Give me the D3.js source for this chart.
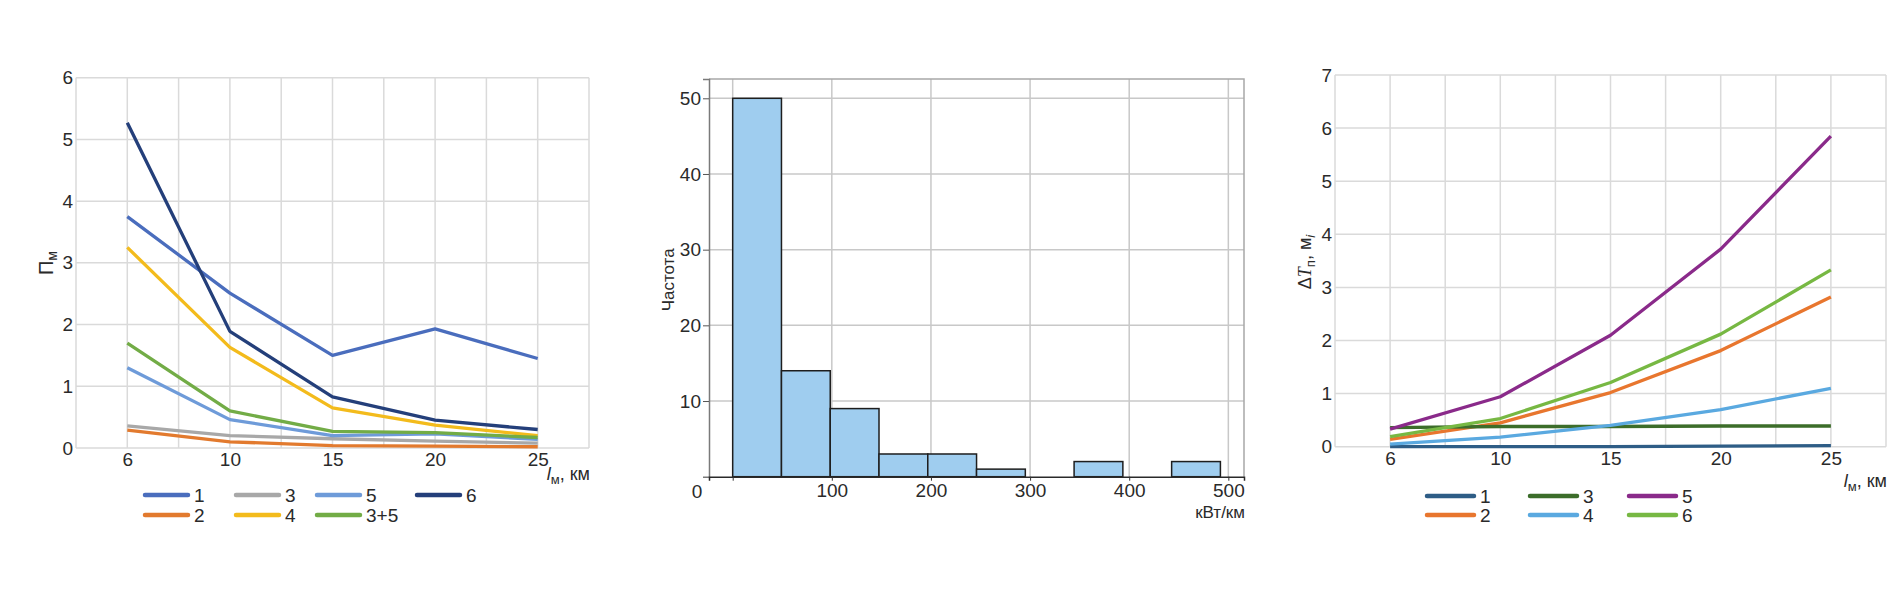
<!DOCTYPE html>
<html>
<head>
<meta charset="utf-8">
<script src="https://cdn.jsdelivr.net/npm/d3@7"></script>
<style>
  body { margin: 0; background: #fff; }
  svg { display: block; }
  text { font-family: "Liberation Sans", Arial, sans-serif; fill: #2a2a2a; }
</style>
</head>
<body>
<svg width="1903" height="611"></svg>
<script>
// shared x categories (l_м, км)
const lengths = [6, 10, 15, 20, 25];

// left chart: П_м
const pmNames = ["1", "2", "3", "4", "5", "3+5", "6"];
const pm1 = [3.75, 2.51, 1.50, 1.93, 1.45];
const pm2 = [0.29, 0.10, 0.04, 0.03, 0.02];
const pm3 = [0.36, 0.20, 0.15, 0.11, 0.08];
const pm4 = [3.25, 1.63, 0.65, 0.37, 0.20];
const pm5 = [1.30, 0.46, 0.20, 0.23, 0.14];
const pm35 = [1.70, 0.60, 0.27, 0.25, 0.17];
const pm6 = [5.27, 1.89, 0.83, 0.45, 0.30];
const pmColors = ["#4a6dbd", "#e27a2e", "#a8a8a8", "#f3bb1c", "#6e9bd9", "#72ac46", "#243f7a"];

// middle chart: histogram
const binStart = 0;
const binWidth = 49.2;
const binCounts = [50, 14, 9, 3, 3, 1, 0, 2, 0, 2];
const histXTicks = [0, 100, 200, 300, 400, 500];
const histYTicks = [10, 20, 30, 40, 50];

// right chart: ΔT_п
const dtNames = ["1", "2", "3", "4", "5", "6"];
const dt1 = [0.00, 0.00, 0.00, 0.01, 0.02];
const dt2 = [0.14, 0.45, 1.02, 1.81, 2.82];
const dt3 = [0.36, 0.38, 0.38, 0.39, 0.39];
const dt4 = [0.05, 0.18, 0.40, 0.70, 1.10];
const dt5 = [0.33, 0.94, 2.10, 3.72, 5.85];
const dt6 = [0.19, 0.53, 1.21, 2.12, 3.33];
const dtColors = ["#2e5d86", "#e8762e", "#3c6d2a", "#5aa9e0", "#8a2a8a", "#77b843"];

const svg = d3.select("svg");
const gridColor = "#dadada";
const tickFont = "19px";

function styleTicks(sel) {
  sel.selectAll("text").style("font-size", tickFont)
    .style("font-family", "Liberation Sans, Arial, sans-serif").attr("fill", "#2a2a2a");
}

function linePanel(o) {
  const g = svg.append("g");
  const x = d3.scalePoint().domain(lengths).range([o.x0, o.x1]).padding(0.5);
  const y = d3.scaleLinear().domain([0, o.yMax]).range([o.y0, o.y1]);
  const half = x.step() / 2;

  // grid: category lines plus half-step lines and frame
  const vx = d3.range(lengths.length * 2 + 1).map(i => o.x0 + i * half);
  g.selectAll(".vg").data(vx).join("line")
    .attr("x1", d => d).attr("x2", d => d)
    .attr("y1", o.y0).attr("y2", o.y1)
    .attr("stroke", gridColor).attr("stroke-width", 1.5);
  g.selectAll(".hg").data(y.ticks(o.yMax)).join("line")
    .attr("x1", o.x0).attr("x2", o.x1)
    .attr("y1", d => y(d)).attr("y2", d => y(d))
    .attr("stroke", gridColor).attr("stroke-width", 1.5);

  const ya = g.append("g").attr("transform", `translate(${o.x0},0)`)
    .call(d3.axisLeft(y).ticks(o.yMax).tickSize(0).tickPadding(3));
  ya.select(".domain").remove();
  styleTicks(ya);

  const xa = g.append("g").attr("transform", `translate(0,${o.y0})`)
    .call(d3.axisBottom(x).tickSize(0).tickPadding(5));
  xa.select(".domain").remove();
  styleTicks(xa);

  const line = d3.line().x((d, i) => x(lengths[i])).y(d => y(d));
  g.selectAll(".series").data(o.series).join("path")
    .attr("d", d => line(d))
    .attr("fill", "none")
    .attr("stroke", (d, i) => o.colors[i])
    .attr("stroke-width", 3.3)
    .attr("stroke-linejoin", "round");

  // legend, two rows per column
  const leg = g.selectAll(".leg").data(o.names).join("g")
    .attr("transform", (d, i) => `translate(${o.legendCols[Math.floor(i / 2)]},${o.legendRows[i % 2]})`);
  leg.append("line").attr("x1", 0).attr("x2", o.legendLen).attr("y1", 0).attr("y2", 0)
    .attr("stroke", (d, i) => o.colors[i]).attr("stroke-width", 4.5).attr("stroke-linecap", "round");
  leg.append("text").attr("x", o.legendLen + 6).attr("y", 7).style("font-size", tickFont).text(d => d);

  // x-axis title
  const xt = g.append("text").attr("x", o.x1 + 1).attr("y", o.xTitleY)
    .attr("text-anchor", "end").style("font-size", "18px");
  xt.append("tspan").attr("font-style", "italic").text("l");
  xt.append("tspan").attr("dy", 4).style("font-size", "13px").text("м");
  xt.append("tspan").attr("dy", -4).text(", км");
  return { g, x, y };
}

// ---------- left chart ----------
const p1 = linePanel({
  x0: 76, x1: 589, y0: 448, y1: 77.7, yMax: 6,
  series: [pm1, pm2, pm3, pm4, pm5, pm35, pm6],
  colors: pmColors, names: pmNames,
  legendCols: [145, 236, 317, 417], legendRows: [495, 515], legendLen: 43,
  xTitleY: 480
});
const yt1 = p1.g.append("text").attr("transform", "translate(53,263) rotate(-90)")
  .attr("text-anchor", "middle").style("font-size", "20px");
yt1.append("tspan").text("П");
yt1.append("tspan").attr("dy", 4).style("font-size", "14px").text("м");

// ---------- right chart ----------
const p3 = linePanel({
  x0: 1335, x1: 1886, y0: 446.7, y1: 75, yMax: 7,
  series: [dt1, dt2, dt3, dt4, dt5, dt6],
  colors: dtColors, names: dtNames,
  legendCols: [1427, 1530, 1629], legendRows: [496, 515], legendLen: 47,
  xTitleY: 487
});
const yt3 = p3.g.append("text").attr("transform", "translate(1311,262) rotate(-90)")
  .attr("text-anchor", "middle").style("font-size", "18px");
yt3.append("tspan").text("Δ");
yt3.append("tspan").attr("font-style", "italic").attr("font-family", "Liberation Serif, serif").text("T");
yt3.append("tspan").attr("dy", 4).style("font-size", "13px").text("п");
yt3.append("tspan").attr("dy", -4).text(", м");
yt3.append("tspan").attr("dy", 4).style("font-size", "13px").attr("font-style", "italic").text("i");

// ---------- middle chart: histogram ----------
const h = { x0: 709, x1: 1244, y0: 476.7, y1: 79 };
const hx = d3.scaleLinear().domain([-23.9, 515.8]).range([h.x0, h.x1]);
const hy = d3.scaleLinear().domain([0, 52.55]).range([h.y0, h.y1]);
const hg = svg.append("g");

hg.selectAll(".vg").data(histXTicks).join("line")
  .attr("x1", d => hx(d)).attr("x2", d => hx(d)).attr("y1", h.y0).attr("y2", h.y1)
  .attr("stroke", "#c8c8c8").attr("stroke-width", 1.5);
hg.selectAll(".hg").data(histYTicks).join("line")
  .attr("x1", h.x0).attr("x2", h.x1).attr("y1", d => hy(d)).attr("y2", d => hy(d))
  .attr("stroke", "#c8c8c8").attr("stroke-width", 1.5);
// top and right frame
hg.append("path")
  .attr("d", `M${h.x0},${h.y1}H${h.x1}V${h.y0}`)
  .attr("fill", "none").attr("stroke", "#a8a8a8").attr("stroke-width", 1.5);

const bins = binCounts.map((c, i) => ({ a: binStart + i * binWidth, b: binStart + (i + 1) * binWidth, c }));
hg.selectAll(".bar").data(bins.filter(d => d.c > 0)).join("rect")
  .attr("x", d => hx(d.a)).attr("width", d => hx(d.b) - hx(d.a))
  .attr("y", d => hy(d.c)).attr("height", d => hy(0) - hy(d.c))
  .attr("fill", "#9fcdef").attr("stroke", "#1e1e1e").attr("stroke-width", 1.5);

const hya = hg.append("g").attr("transform", `translate(${h.x0},0)`)
  .call(d3.axisLeft(hy).tickValues(histYTicks).tickSize(6).tickPadding(2));
hya.select(".domain").attr("stroke", "#7a7a7a").attr("stroke-width", 1.5);
hya.selectAll(".tick line").attr("stroke", "#555");
styleTicks(hya);

const hxa = hg.append("g").attr("transform", `translate(0,${h.y0})`)
  .call(d3.axisBottom(hx).tickValues(histXTicks).tickSize(4).tickPadding(3)
    .tickFormat(d => d === 0 ? "" : d));
hxa.select(".domain").attr("stroke", "#2a2a2a").attr("stroke-width", 1.5);
hxa.selectAll(".tick line").attr("stroke", "#333");
styleTicks(hxa);

hg.append("text").attr("x", h.x0 - 12).attr("y", h.y0 + 21)
  .attr("text-anchor", "middle").style("font-size", tickFont).text("0");
hg.append("text").attr("x", h.x1 + 1).attr("y", h.y0 + 41)
  .attr("text-anchor", "end").style("font-size", "17px").text("кВт/км");
hg.append("text").attr("transform", `translate(674,${(h.y0 + h.y1) / 2 + 2}) rotate(-90)`)
  .attr("text-anchor", "middle").style("font-size", "17px").text("Частота");
</script>
</body>
</html>
